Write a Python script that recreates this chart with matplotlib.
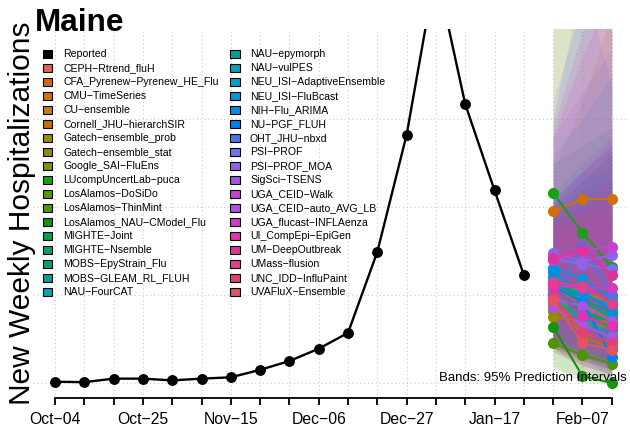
import matplotlib
matplotlib.use("Agg")
import matplotlib.pyplot as plt
from matplotlib.patches import Rectangle

plt.rcParams['font.family'] = ['Liberation Sans', 'DejaVu Sans']

W, H = 630, 432

# weekly dates shown on the x axis (one tick per week)
weeks = ["Oct-04", "Oct-11", "Oct-18", "Oct-25", "Nov-01", "Nov-08", "Nov-15",
         "Nov-22", "Nov-29", "Dec-06", "Dec-13", "Dec-20", "Dec-27", "Jan-03",
         "Jan-10", "Jan-17", "Jan-24", "Jan-31", "Feb-07", "Feb-14"]

# reported weekly hospitalizations (Oct-04 .. Jan-24)
reported = [1.5, 1, 5, 5, 3, 5, 6.5, 15, 25, 39, 57, 149, 282, 470, 317, 219, 123]

models = ["CEPH-Rtrend_fluH", "CFA_Pyrenew-Pyrenew_HE_Flu", "CMU-TimeSeries",
          "CU-ensemble", "Cornell_JHU-hierarchSIR", "Gatech-ensemble_prob",
          "Gatech-ensemble_stat", "Google_SAI-FluEns", "LUcompUncertLab-puca",
          "LosAlamos-DoSiDo", "LosAlamos-ThinMint", "LosAlamos_NAU-CModel_Flu",
          "MIGHTE-Joint", "MIGHTE-Nsemble", "MOBS-EpyStrain_Flu",
          "MOBS-GLEAM_RL_FLUH", "NAU-FourCAT", "NAU-epymorph", "NAU-vulPES",
          "NEU_ISI-AdaptiveEnsemble", "NEU_ISI-FluBcast", "NIH-Flu_ARIMA",
          "NU-PGF_FLUH", "OHT_JHU-nbxd", "PSI-PROF", "PSI-PROF_MOA",
          "SigSci-TSENS", "UGA_CEID-Walk", "UGA_CEID-auto_AVG_LB",
          "UGA_flucast-INFLAenza", "UI_CompEpi-EpiGen", "UM-DeepOutbreak",
          "UMass-flusion", "UNC_IDD-InfluPaint", "UVAFluX-Ensemble"]

colors = ["#DD6450", "#D8651E", "#D07008", "#B8820C", "#C07208", "#9A8C00",
          "#8C8C00", "#7C9400", "#18A018", "#609400", "#4E9600", "#149414",
          "#00A050", "#00A066", "#00A07A", "#00A090", "#00A4B4", "#00A0A0",
          "#00A2BA", "#00A0CC", "#0098D8", "#008EE2", "#0080F0", "#4676E8",
          "#7272F0", "#9062EC", "#A656E2", "#C842D2", "#B052E2", "#D43AC8",
          "#E032B2", "#E0329C", "#E0428A", "#E04274", "#E05464"]

# forecast medians for Jan-31, Feb-07, Feb-14
med_h1 = [100, 110, 195, 118, 105, 75, 82, 92, 216, 88, 45, 64, 112, 108, 118,
          104, 98, 115, 105, 120, 131, 126, 110, 100, 142, 148, 94, 140, 86,
          111, 108, 142, 115, 98, 94]
med_h2 = [80, 90, 209, 102, 52, 70, 76, 84, 171, 80, 32, 8, 100, 80, 95, 85,
          70, 92, 74, 100, 118, 104, 92, 155, 135, 138, 88, 150, 66, 108, 76,
          151, 110, 58, 45]
med_h3 = [68, 72, 209, 92, 41, 62, 68, 76, 132, 72, 22, 0, 88, 70, 80, 60, 50,
          75, 55, 88, 97, 82, 30, 100, 130, 145, 70, 155, 52, 108, 65, 123,
          90, 45, 38]

# 95% prediction interval bounds
lo_h1 = [40, 45, 100, 55, 45, 35, 40, 45, 90, 40, 15, 20, 50, 50, 55, 45, 40,
         50, 45, 55, 60, 55, 45, 40, 70, 75, 40, 65, 35, 50, 45, 70, 50, 40, 40]
lo_h2 = [25, 30, 90, 40, 30, 25, 30, 35, 50, 30, 8, 0, 35, 30, 35, 30, 20, 35,
         25, 40, 45, 40, 30, 40, 55, 60, 30, 60, 20, 40, 25, 60, 40, 20, 15]
lo_h3 = [15, 20, 70, 30, 15, 20, 20, 25, 30, 20, 4, 0, 25, 20, 25, 15, 10, 20,
         15, 25, 30, 25, 5, 25, 45, 45, 20, 50, 10, 30, 15, 50, 25, 10, 5]
up_h1 = [190, 200, 420, 240, 200, 150, 160, 180, 470, 170, 120, 250, 200, 190,
         210, 190, 185, 200, 190, 210, 260, 215, 200, 300, 280, 320, 175, 290,
         170, 205, 195, 280, 205, 190, 180]
up_h2 = [220, 230, 500, 320, 210, 170, 180, 200, 420, 200, 115, 270, 230, 220,
         240, 220, 200, 230, 210, 240, 300, 250, 240, 460, 330, 430, 200, 400,
         180, 240, 210, 370, 240, 200, 190]
up_h3 = [250, 260, 560, 420, 220, 190, 200, 220, 430, 220, 105, 290, 260, 250,
         270, 230, 210, 260, 220, 270, 350, 280, 230, 340, 380, 400, 220, 470,
         190, 280, 230, 450, 270, 210, 200]


def fx(px):
    return px / W


def fy(py):
    return 1 - py / H


fig = plt.figure(figsize=(W / 100, H / 100), dpi=100)
ax = fig.add_axes([fx(33), fy(398), (628 - 33) / W, (398 - 29) / H])

x_all = list(range(len(weeks)))
x_rep = x_all[:len(reported)]
x_fc = x_all[len(reported):]

# grid
for xv in x_all:
    ax.axvline(xv, color="#CCCCCC", lw=0.8, ls=(0, (1, 2.5)), zorder=0)
for yv in [0, 100, 200, 300]:
    ax.axhline(yv, color="#CCCCCC", lw=0.8, ls=(0, (1, 2.5)), zorder=0)

# prediction bands
for i in range(len(models)):
    lo = [lo_h1[i], lo_h2[i], lo_h3[i]]
    up = [up_h1[i], up_h2[i], up_h3[i]]
    ax.fill_between(x_fc, lo, up, color=colors[i], alpha=0.12, lw=0, zorder=1)

# medians
for i in range(len(models)):
    md = [med_h1[i], med_h2[i], med_h3[i]]
    ax.plot(x_fc, md, color=colors[i], lw=1.5, marker="o", ms=7,
            zorder=2)

ax.plot(x_rep, reported, color="black", lw=1.7, marker="o", ms=6.8, zorder=3)

ax.set_xlim(-0.751, 19.556)
ax.set_ylim(-17, 402.3)
for s in ["top", "right", "left"]:
    ax.spines[s].set_visible(False)
ax.spines["bottom"].set_bounds(0, 19)
ax.spines["bottom"].set_linewidth(1.3)
ax.set_yticks([])
ax.set_xticks(x_all)
ax.set_xticklabels([w.replace("-", "\u2212") if k % 3 == 0 else ""
                    for k, w in enumerate(weeks)], fontsize=11.3)
ax.tick_params(axis="x", length=5, width=1.3, pad=5, direction="out")

ax.text(0.9985, 0.046, "Bands: 95% Prediction Intervals", transform=ax.transAxes,
        ha="right", va="baseline", fontsize=9.5)

fig.text(fx(35), fy(31), "Maine", fontsize=22.7, fontweight="bold",
         va="baseline", ha="left")
fig.text(fx(22), fy(213), "New Weekly Hospitalizations", rotation=90,
         fontsize=21.5, va="center", ha="center")

# legend
entries = [("Reported", "black")] + list(zip(models, colors))
for k, (name, col) in enumerate(entries):
    c, r = divmod(k, 18)
    sx = 43 if c == 0 else 230
    cy = 54 + 14 * r
    fig.add_artist(Rectangle((fx(sx), fy(cy + 4)), 9.5 / W, 8 / H,
                             transform=fig.transFigure, facecolor=col,
                             edgecolor="black", lw=0.8))
    fig.text(fx(sx + 20), fy(cy), name.replace("-", "\u2212"), fontsize=7.6,
             va="center", ha="left")

fig.savefig("out.png", dpi=100)
